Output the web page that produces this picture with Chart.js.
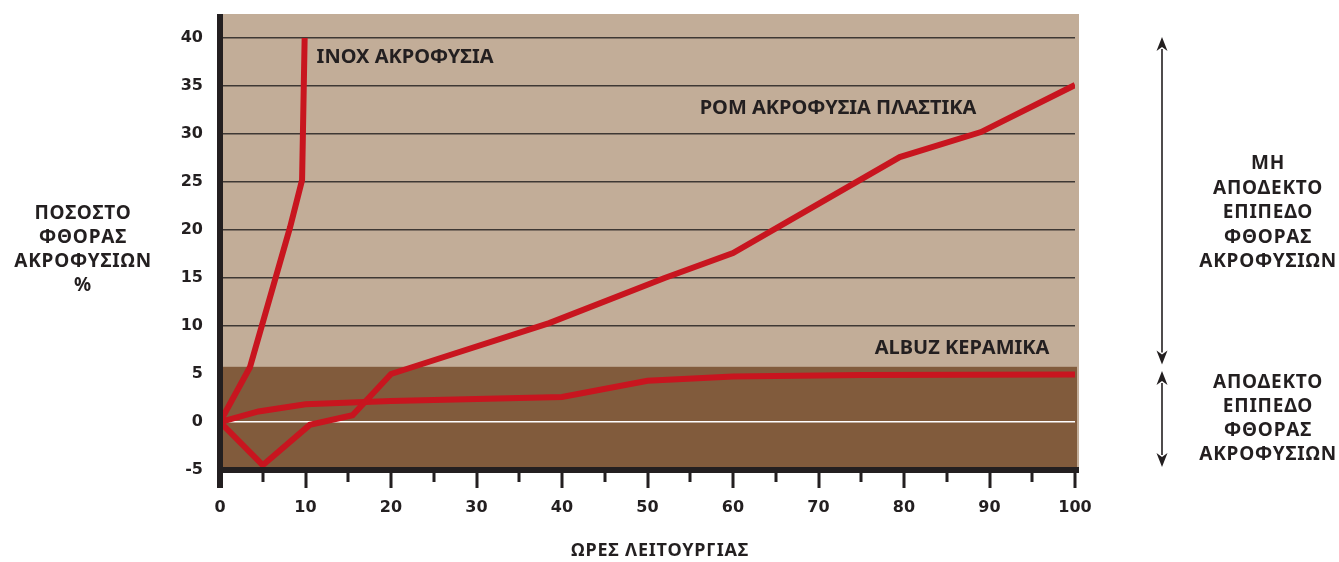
<!DOCTYPE html>
<html>
<head>
<meta charset="utf-8">
<title>Φθορά ακροφυσίων</title>
<script src="https://cdn.jsdelivr.net/npm/chart.js@4/dist/chart.umd.min.js"></script>
<style>
  html, body { margin: 0; padding: 0; background: #ffffff; }
  #wrap { width: 1339px; height: 562px; position: relative; }
</style>
</head>
<body>
<div id="wrap"><canvas id="wear" width="1339" height="562"></canvas></div>
<script>
// Hours of operation (x) and nozzle wear in % (y) for each nozzle type
const inoxHours  = [0, 3.5, 8.2, 9.6, 9.9];
const inoxWear   = [0, 5.7, 20.3, 25.2, 40];

const romHours   = [0, 5, 10.5, 15.5, 20, 38.5, 52, 60, 79.5, 89, 100];
const romWear    = [0, -4.5, -0.3, 0.7, 5, 10.3, 15.0, 17.6, 27.6, 30.2, 35.1];

const albuzHours = [0, 4.5, 10, 20, 40, 50, 60, 75, 100];
const albuzWear  = [0, 1.1, 1.85, 2.2, 2.6, 4.3, 4.75, 4.9, 4.95];

const seriesNames = ['INOX ΑΚΡΟΦΥΣΙΑ', 'ΡΟΜ ΑΚΡΟΦΥΣΙΑ ΠΛΑΣΤΙΚΑ', 'ALBUZ ΚΕΡΑΜΙΚΑ'];

// Axis ranges and tick steps
const hoursRange = [0, 100];
const wearRange  = [-5, 42.5];
const tickStep   = 5;

// Wear level separating acceptable from unacceptable
const acceptableLimit = 5.75;

// Texts
const xTitle = 'ΩΡΕΣ ΛΕΙΤΟΥΡΓΙΑΣ';
const yTitle = ['ΠΟΣΟΣΤΟ', 'ΦΘΟΡΑΣ', 'ΑΚΡΟΦΥΣΙΩΝ', '%'];
const upperZoneText = ['ΜΗ', 'ΑΠΟΔΕΚΤΟ', 'ΕΠΙΠΕΔΟ', 'ΦΘΟΡΑΣ', 'ΑΚΡΟΦΥΣΙΩΝ'];
const lowerZoneText = ['ΑΠΟΔΕΚΤΟ', 'ΕΠΙΠΕΔΟ', 'ΦΘΟΡΑΣ', 'ΑΚΡΟΦΥΣΙΩΝ'];

const toPoints = (xs, ys) => xs.map((x, i) => ({ x, y: ys[i] }));

const INK = '#231f20';
const RED = '#c8151f';
const TAN = '#c2ad98';
const BROWN = '#815b3c';
const LABEL_FONT = "'Noto Sans', 'DejaVu Sans', sans-serif";
const TICK_FONT = "'DejaVu Sans', sans-serif";

function drawArrow(ctx, x, yTop, yBottom) {
  const head = 14, half = 5.5;
  ctx.beginPath();
  ctx.moveTo(x, yTop + head - 2);
  ctx.lineTo(x, yBottom - head + 2);
  ctx.stroke();
  ctx.beginPath();
  ctx.moveTo(x, yTop);
  ctx.lineTo(x + half, yTop + head);
  ctx.lineTo(x, yTop + head - 4);
  ctx.lineTo(x - half, yTop + head);
  ctx.closePath();
  ctx.fill();
  ctx.beginPath();
  ctx.moveTo(x, yBottom);
  ctx.lineTo(x + half, yBottom - head);
  ctx.lineTo(x, yBottom - head + 4);
  ctx.lineTo(x - half, yBottom - head);
  ctx.closePath();
  ctx.fill();
}

function drawLines(ctx, lines, cx, firstY, step) {
  lines.forEach((t, i) => ctx.fillText(t, cx, firstY + i * step));
}

const framePlugin = {
  id: 'frame',
  beforeDraw(chart) {
    const { ctx, chartArea: a, scales: { y } } = chart;
    ctx.save();
    ctx.fillStyle = TAN;
    ctx.fillRect(a.left, a.top, a.right - a.left + 4, a.bottom - a.top);
    const yLim = y.getPixelForValue(acceptableLimit);
    ctx.fillStyle = BROWN;
    ctx.fillRect(a.left, yLim, a.right - a.left + 2, a.bottom - yLim);
    ctx.restore();
  },
  afterDatasetsDraw(chart) {
    const { ctx, chartArea: a, scales: { x, y } } = chart;
    ctx.save();

    // axis bars and tick marks
    ctx.fillStyle = INK;
    ctx.fillRect(a.left - 3, a.top, 6, a.bottom + 18 - a.top);
    ctx.fillRect(a.left - 3, a.bottom - 3, a.right - a.left + 7, 6);
    x.ticks.forEach(t => {
      const px = Math.round(x.getPixelForValue(t.value));
      const len = t.value % 10 === 0 ? 18 : 12;
      ctx.fillRect(px - 1.5, a.bottom, 3, len);
    });

    // series labels
    ctx.fillStyle = INK;
    ctx.font = `bold 20px ${LABEL_FONT}`;
    ctx.textBaseline = 'middle';
    ctx.textAlign = 'left';
    ctx.fillText(seriesNames[0], x.getPixelForValue(11.3), y.getPixelForValue(38.0));
    ctx.fillText(seriesNames[1], x.getPixelForValue(56.1), y.getPixelForValue(32.7));
    ctx.textAlign = 'right';
    ctx.fillText(seriesNames[2], x.getPixelForValue(97.0), y.getPixelForValue(7.7));

    // axis titles
    ctx.textAlign = 'center';
    ctx.font = `bold 18px ${LABEL_FONT}`;
    ctx.letterSpacing = '0.8px';
    ctx.fillText(xTitle, 660, 551);
    ctx.font = `bold 19px ${LABEL_FONT}`;
    ctx.letterSpacing = '0.8px';
    drawLines(ctx, yTitle, 83, 214, 24);

    // zone annotations
    drawLines(ctx, upperZoneText, 1268, 164, 24.5);
    drawLines(ctx, lowerZoneText, 1268, 383, 24);
    ctx.letterSpacing = '0px';

    ctx.strokeStyle = INK;
    ctx.lineWidth = 1.6;
    const ax = 1162;
    drawArrow(ctx, ax, y.getPixelForValue(40.1), y.getPixelForValue(acceptableLimit + 0.25));
    drawArrow(ctx, ax, y.getPixelForValue(acceptableLimit - 0.45), y.getPixelForValue(-4.7));

    ctx.restore();
  }
};

const lineStyle = {
  borderColor: RED,
  borderWidth: 6,
  pointRadius: 0,
  tension: 0,
  fill: false,
  borderJoinStyle: 'miter',
  borderCapStyle: 'butt'
};

new Chart(document.getElementById('wear'), {
  type: 'line',
  data: {
    datasets: [
      { label: seriesNames[0], data: toPoints(inoxHours, inoxWear), ...lineStyle },
      { label: seriesNames[1], data: toPoints(romHours, romWear), ...lineStyle },
      { label: seriesNames[2], data: toPoints(albuzHours, albuzWear), ...lineStyle }
    ]
  },
  options: {
    responsive: false,
    animation: false,
    devicePixelRatio: 1,
    layout: { padding: { top: 14, right: 264, bottom: 0, left: 0 } },
    plugins: {
      legend: { display: false },
      tooltip: { enabled: false }
    },
    scales: {
      x: {
        type: 'linear',
        min: hoursRange[0],
        max: hoursRange[1],
        grid: { display: false },
        border: { display: false },
        ticks: {
          stepSize: tickStep,
          autoSkip: false,
          maxRotation: 0,
          padding: 20,
          color: INK,
          font: { family: TICK_FONT, size: 16, weight: 'bold' },
          callback: v => (v % 10 === 0 ? String(v) : '')
        },
        afterFit: s => { s.height = 92; s.paddingLeft = 0; s.paddingRight = 0; }
      },
      y: {
        type: 'linear',
        min: wearRange[0],
        max: wearRange[1],
        grid: {
          drawTicks: false,
          lineWidth: 1.5,
          color: c => {
            const v = c.tick ? c.tick.value : null;
            if (v === 0) return '#ffffff';
            if (v !== null && v > acceptableLimit) return '#3e3834';
            return 'rgba(0,0,0,0)';
          }
        },
        border: { display: false },
        ticks: {
          stepSize: tickStep,
          includeBounds: false,
          padding: 17,
          color: INK,
          font: { family: TICK_FONT, size: 16, weight: 'bold' },
          callback: v => (v % 5 === 0 ? String(v) : '')
        },
        afterFit: s => { s.width = 220; s.paddingTop = 0; s.paddingBottom = 0; }
      }
    }
  },
  plugins: [framePlugin]
});
</script>
</body>
</html>
